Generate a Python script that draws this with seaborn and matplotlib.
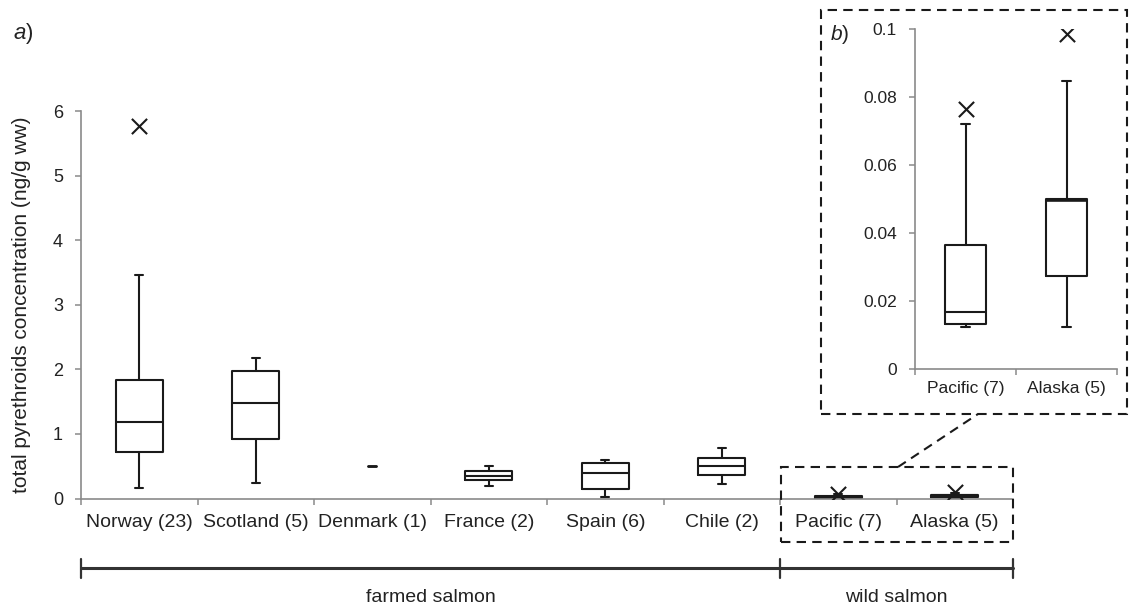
import numpy as np
import matplotlib
matplotlib.use("Agg")
import matplotlib.pyplot as plt
import matplotlib.transforms as mtrans
from matplotlib.lines import Line2D
from matplotlib.patches import Rectangle
import seaborn as sns
import pandas as pd

# ---------------- data ----------------
categories = ["Norway (23)", "Scotland (5)", "Denmark (1)", "France (2)",
              "Spain (6)", "Chile (2)", "Pacific (7)", "Alaska (5)"]
whis_low = [0.17, 0.245, 0.50, 0.20, 0.03, 0.22, 0.0124, 0.0124]
q1_vals = [0.72, 0.92, 0.50, 0.28, 0.15, 0.36, 0.0132, 0.0274]
median_vals = [1.18, 1.48, 0.50, 0.35, 0.39, 0.50, 0.0167, 0.0497]
q3_vals = [1.84, 1.98, 0.50, 0.43, 0.55, 0.63, 0.0365, 0.0499]
whis_high = [3.46, 2.17, 0.50, 0.51, 0.60, 0.78, 0.0721, 0.0846]
outlier_cat = ["Norway (23)", "Pacific (7)", "Alaska (5)"]
outlier_val = [5.77, 0.0765, 0.0985]

main_yticks = [0, 1, 2, 3, 4, 5, 6]
inset_cats = ["Pacific (7)", "Alaska (5)"]
inset_yticks = [0, 0.02, 0.04, 0.06, 0.08, 0.1]
inset_yticklabels = ["0", "0.02", "0.04", "0.06", "0.08", "0.1"]
groups = ["farmed salmon", "wild salmon"]

# ---------------- style ----------------
sns.set_theme(style="ticks")
plt.rcParams['font.family'] = ['Liberation Sans', 'DejaVu Sans']
plt.rcParams['mathtext.fontset'] = 'custom'
plt.rcParams['mathtext.it'] = 'Liberation Sans:italic'
plt.rcParams['mathtext.rm'] = 'Liberation Sans'

INK = '#1a1a1a'
AXC = '#8a8a8a'
TXT = '#222222'

W, H = 1130, 608
fig = plt.figure(figsize=(W / 100, H / 100), dpi=100)
fig.patch.set_facecolor('white')


def fx(x):
    return x / W


def fy(y):
    return 1 - y / H


def stats_for(idx):
    return [dict(label=categories[i], whislo=whis_low[i], q1=q1_vals[i], med=median_vals[i],
                 q3=q3_vals[i], whishi=whis_high[i], fliers=np.array([])) for i in idx]


def draw_boxes(ax, idx, positions, width, capw, lw, med_lw=None, showbox=True):
    props = dict(color=INK, linewidth=lw)
    ax.bxp(stats_for(idx), positions=positions, widths=width, capwidths=capw,
           showfliers=False, showbox=showbox, manage_ticks=False,
           boxprops=props, whiskerprops=props, capprops=props,
           medianprops=dict(color=INK, linewidth=(med_lw or lw) if showbox else 0))


def style_axes(ax, ylabelsize):
    for s in ['top', 'right']:
        ax.spines[s].set_visible(False)
    for s in ['left', 'bottom']:
        ax.spines[s].set_color(AXC)
        ax.spines[s].set_linewidth(1.2)
    ax.tick_params(axis='y', length=4, width=1.1, color=AXC, direction='out',
                   pad=9, labelsize=ylabelsize, labelcolor=TXT)
    ax.tick_params(axis='x', which='major', length=0, labelcolor=TXT)
    ax.tick_params(axis='x', which='minor', length=4, width=1.1, color=AXC, direction='out')
    ax.set_facecolor('none')


# ---------------- main axes ----------------
ax = fig.add_axes([fx(81), fy(498.5), fx(1013) - fx(81), fy(111) - fy(498.5)])
pos_all = list(range(len(categories)))
box_idx = [i for i in pos_all if categories[i] != "Denmark (1)"]
draw_boxes(ax, box_idx, box_idx, 0.4, 0.065, 1.5)
dk = [categories.index("Denmark (1)")]
draw_boxes(ax, dk, dk, 0.4, 0.065, 1.8, showbox=False)

out_pos = [categories.index(c) for c in outlier_cat]
sns.scatterplot(x=out_pos, y=outlier_val, marker='x', color=INK, s=120,
                linewidth=1.5, ax=ax, legend=False, zorder=5)

ax.set_xlim(-0.5, len(categories) - 0.5)
ax.set_ylim(0, 6)
ax.set_yticks(main_yticks)
ax.set_yticklabels([str(v) for v in main_yticks])
ax.set_xticks(pos_all)
ax.set_xticklabels(categories, fontsize=14)
ax.set_xticks(np.arange(-0.5, len(categories), 1), minor=True)
style_axes(ax, 13)
ax.tick_params(axis='x', which='major', pad=11)
ax.set_xlabel("")
ax.set_ylabel("total pyrethroids concentration (ng/g ww)", fontsize=15, color=TXT)
ax.yaxis.set_label_coords((31 - 81) / (1013 - 81), (498.5 - 305) / (498.5 - 111))

# ---------------- inset axes ----------------
ax2 = fig.add_axes([fx(915), fy(369), fx(1117) - fx(915), fy(29) - fy(369)])
in_idx = [categories.index(c) for c in inset_cats]
in_pos = list(range(len(inset_cats)))
draw_boxes(ax2, in_idx, in_pos, 0.4, 0.08, 1.5, med_lw=1.5)
ax2.plot([in_pos[1] - 0.2, in_pos[1] + 0.2], [median_vals[in_idx[1]]] * 2,
         color=INK, linewidth=2.6, solid_capstyle='butt')
in_out_pos = [inset_cats.index(c) for c in outlier_cat if c in inset_cats]
in_out_val = [v for c, v in zip(outlier_cat, outlier_val) if c in inset_cats]
sns.scatterplot(x=in_out_pos, y=in_out_val, marker='x', color=INK, s=120,
                linewidth=1.5, ax=ax2, legend=False, zorder=5)
ax2.set_xlim(-0.5, len(inset_cats) - 0.5)
ax2.set_ylim(0, 0.1)
ax2.set_yticks(inset_yticks)
ax2.set_yticklabels(inset_yticklabels)
ax2.set_xticks(in_pos)
ax2.set_xticklabels(inset_cats, fontsize=12.5)
ax2.set_xticks(np.arange(-0.5, len(inset_cats), 1), minor=True)
style_axes(ax2, 12.5)
ax2.tick_params(axis='x', which='major', pad=9)
ax2.set_xlabel("")
ax2.set_ylabel("")

# ---------------- annotations ----------------
dash = (0, (4.5, 3))
fig.add_artist(Rectangle((fx(821), fy(414)), fx(1127) - fx(821), fy(10) - fy(414),
                         transform=fig.transFigure, fill=False, edgecolor=INK,
                         linewidth=1.5, linestyle=dash))
fig.add_artist(Rectangle((fx(781), fy(542)), fx(1013) - fx(781), fy(467) - fy(542),
                         transform=fig.transFigure, fill=False, edgecolor=INK,
                         linewidth=1.5, linestyle=dash))
fig.add_artist(Line2D([fx(898), fx(978)], [fy(467), fy(414)], transform=fig.transFigure,
                      color=INK, linewidth=1.5, linestyle=dash))

# group bracket
bt = mtrans.blended_transform_factory(ax.transData, fig.transFigure)
n_farmed = 6
edges = [-0.5, n_farmed - 0.5, len(categories) - 0.5]
fig.add_artist(Line2D([edges[0], edges[-1]], [fy(568), fy(568)], transform=bt,
                      color='#333333', linewidth=2.2))
for e in edges:
    fig.add_artist(Line2D([e, e], [fy(559), fy(578)], transform=bt,
                          color='#333333', linewidth=1.6))
centers = [(edges[0] + edges[1]) / 2, (edges[1] + edges[2]) / 2]
for g, c in zip(groups, centers):
    fig.text(c, fy(598), g, transform=bt, ha='center', va='center', fontsize=14, color=TXT)

fig.text(fx(13), fy(33), r"$a$)", ha='left', va='center', fontsize=16, color=TXT)
fig.text(fx(830), fy(35), r"$b$)", ha='left', va='center', fontsize=15, color=TXT)

fig.savefig("out.png", dpi=100, facecolor='white')
